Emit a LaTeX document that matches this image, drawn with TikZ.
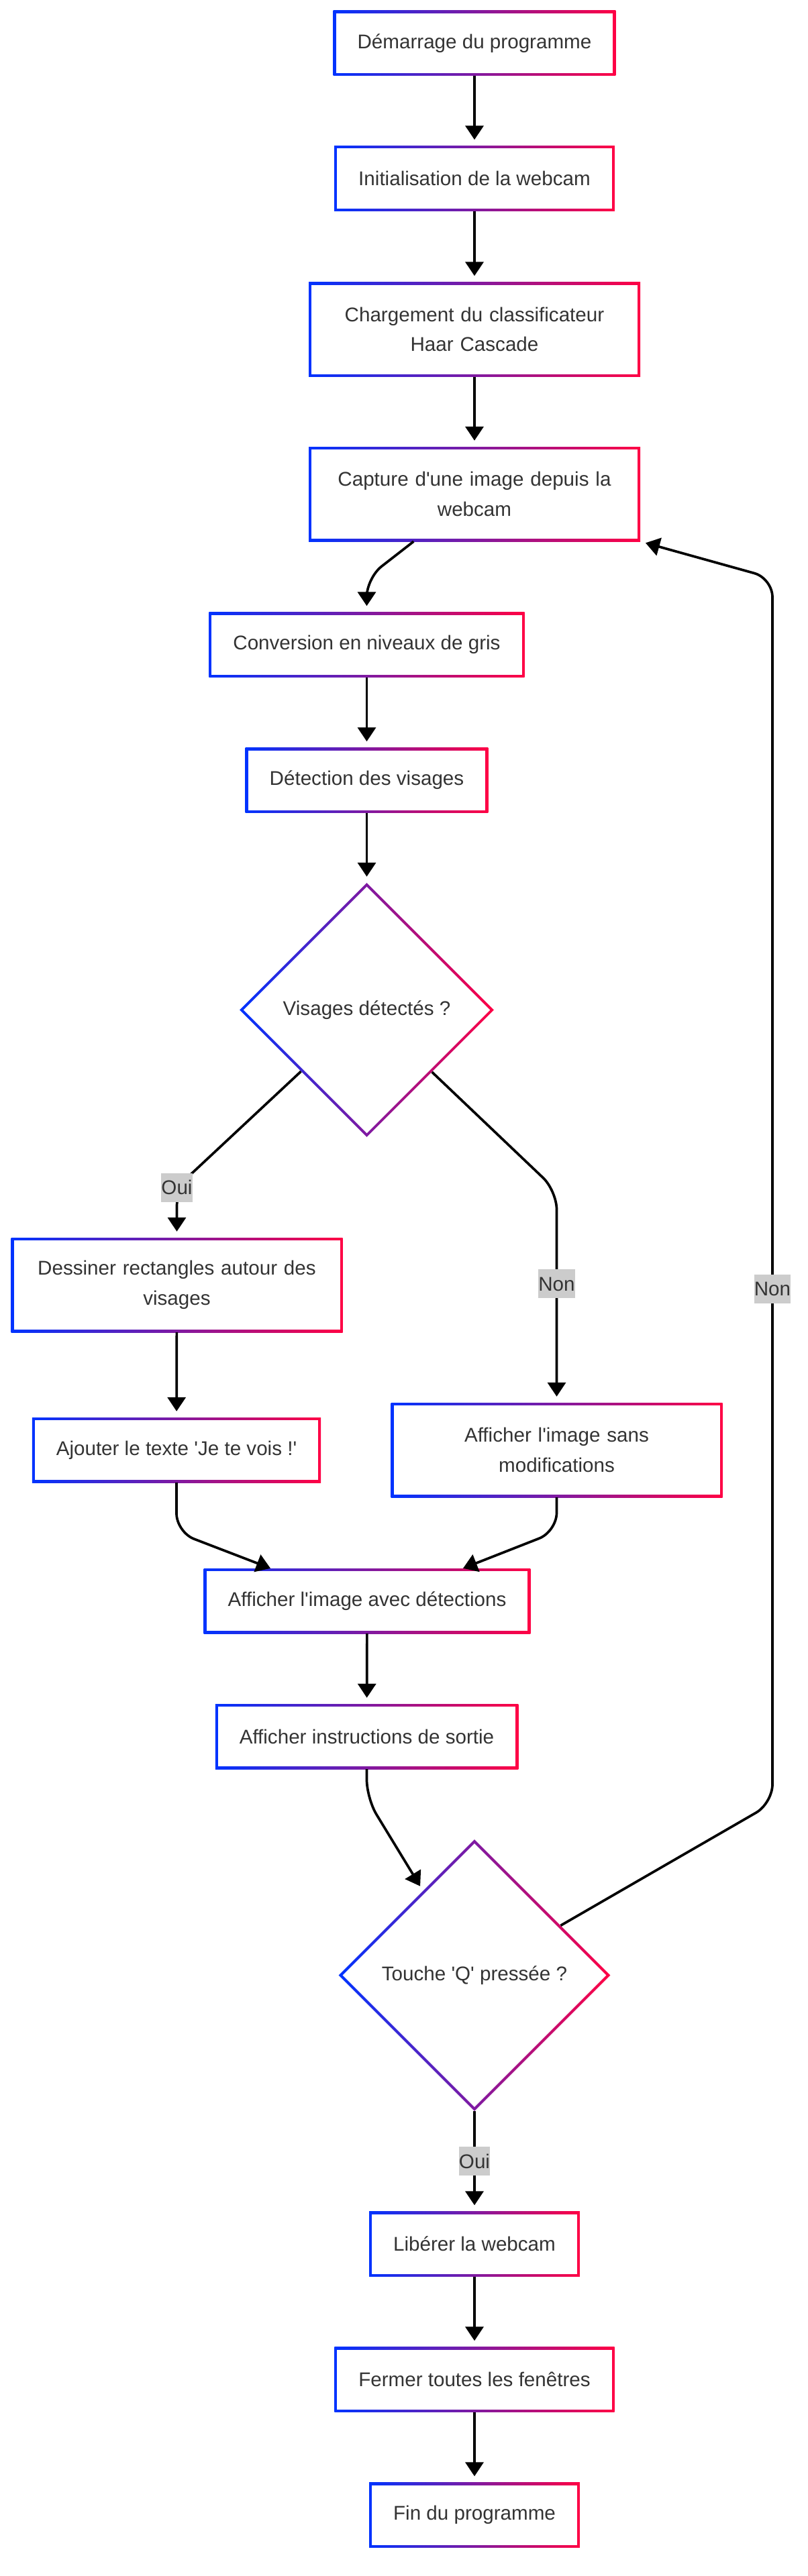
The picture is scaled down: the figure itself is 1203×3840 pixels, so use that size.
\documentclass[tikz,border=0pt]{standalone}
\usepackage{fontspec}
\setmainfont{Liberation Sans}
\usetikzlibrary{shapes.geometric,arrows.meta,calc}
\definecolor{bleu}{HTML}{0033FF}
\definecolor{rouge}{HTML}{FF0044}
\definecolor{texte}{HTML}{333333}
\definecolor{gris}{HTML}{CCCCCC}
\newcommand{\police}{\fontsize{29.6pt}{44.4pt}\selectfont}

\begin{document}
\begin{tikzpicture}[x=1pt,y=-1pt]
 \useasboundingbox (0,0) rectangle (1203,3840);
 \tikzstyle{etape}=[rectangle, fill=white, minimum height=97pt, inner xsep=36pt, inner ysep=0pt, text=texte, font=\police,
   path picture={
     \shade[left color=bleu, right color=rouge] (path picture bounding box.south west) rectangle (path picture bounding box.north east);
     \fill[white] ([xshift=4pt,yshift=4pt]path picture bounding box.south west) rectangle ([xshift=-4pt,yshift=-4pt]path picture bounding box.north east);}]
 \tikzstyle{etapedouble}=[etape, minimum height=141pt, text width=422pt, align=center]
 \tikzstyle{test}=[diamond, aspect=1, fill=white, inner sep=0pt, text=texte, font=\police,
   path picture={
     \shade[left color=bleu, right color=rouge] (path picture bounding box.south west) rectangle (path picture bounding box.north east);
     \fill[white] ($(path picture bounding box.center)!0.97!(path picture bounding box.north)$)
       -- ($(path picture bounding box.center)!0.97!(path picture bounding box.east)$)
       -- ($(path picture bounding box.center)!0.97!(path picture bounding box.south)$)
       -- ($(path picture bounding box.center)!0.97!(path picture bounding box.west)$) -- cycle;}]
 \tikzstyle{fleche}=[-{Triangle[width=27pt,length=21pt]}, line width=3.7pt, rounded corners=28pt, shorten >=9pt]
 \tikzstyle{etiq}=[rectangle, sharp corners, fill=gris, inner sep=0pt, minimum height=43pt, text=texte, font=\police]
 \node[etape] (E1) at (707,64.5) {Démarrage du programme};
 \node[etape] (E2) at (707,266) {Initialisation de la webcam};
 \node[etapedouble] (E3) at (707,491) {Chargement du classificateur\\Haar Cascade};
 \node[etapedouble] (E4) at (707,736.5) {Capture d\textquotesingle une image depuis la\\webcam};
 \node[etape] (E5) at (546.5,961) {Conversion en niveaux de gris};
 \node[etape] (E6) at (546.5,1163) {Détection des visages};
 \node[test, minimum width=379pt, minimum height=379pt] (T1) at (546.5,1505.5) {Visages détectés ?};
 \node[etapedouble] (E7) at (263.5,1915.5) {Dessiner rectangles autour des\\visages};
 \node[etape] (E8) at (263,2161.5) {Ajouter le texte \textquotesingle Je te vois !\textquotesingle};
 \node[etapedouble] (E9) at (829.5,2161.5) {Afficher l\textquotesingle image sans\\modifications};
 \node[etape] (E10) at (547,2386.5) {Afficher l\textquotesingle image avec détections};
 \node[etape] (E11) at (546.5,2588.5) {Afficher instructions de sortie};
 \node[test, minimum width=405pt, minimum height=405pt] (T2) at (707,2944.5) {Touche \textquotesingle Q\textquotesingle{} pressée ?};
 \node[etape] (E12) at (707,3345) {Libérer la webcam};
 \node[etape] (E13) at (707,3547) {Fermer toutes les fenêtres};
 \node[etape] (E14) at (707,3749) {Fin du programme};
 \coordinate (C1) at (546.5,861.5);
 \coordinate (C2) at (263.5,1770);
 \coordinate (C3) at (829.5,1775);
 \coordinate (C4) at (263,2284);
 \coordinate (C5) at (829.5,2283);
 \coordinate (C6) at (546.5,2681);
 \coordinate (C7) at (1151,2688);
 \coordinate (C8) at (1151,862);
 \draw[fleche] (E1) -- (E2);
 \draw[fleche] (E2) -- (E3);
 \draw[fleche] (E3) -- (E4);
 \draw[fleche] (E4) -- (C1) -- (E5);
 \draw[fleche] (E5) -- (E6);
 \draw[fleche] (E6) -- (T1);
 \draw[fleche] (T1) -- (C2) node[etiq] {Oui} -- (E7);
 \draw[fleche] (T1) -- (C3) -- node[etiq, pos=0.44] {Non} (E9);
 \draw[fleche] (E7) -- (E8);
 \draw[fleche, shorten >=0pt] (E8) -- (C4) -- ([xshift=-144pt]E10.north);
 \draw[fleche, shorten >=0pt] (E9) -- (C5) -- ([xshift=143pt]E10.north);
 \draw[fleche] (E10) -- (E11);
 \draw[fleche, shorten >=8pt] (E11) -- (C6) -- (T2);
 \draw[fleche, shorten >=8pt] (T2) -- (C7) -- node[etiq, pos=0.42] {Non} (C8) -- (E4.south east);
 \draw[fleche] (T2) -- node[etiq] {Oui} (E12);
 \draw[fleche] (E12) -- (E13);
 \draw[fleche] (E13) -- (E14);
\end{tikzpicture}
\end{document}
